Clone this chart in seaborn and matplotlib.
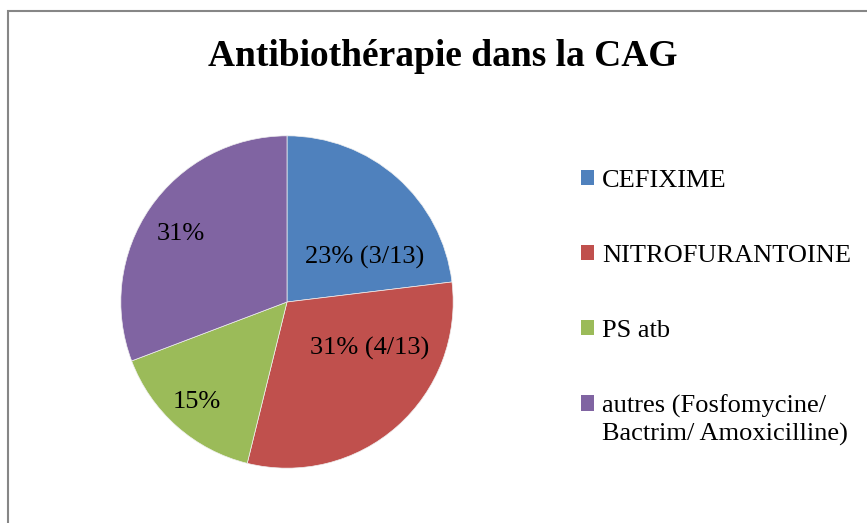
import matplotlib
matplotlib.use('Agg')
import matplotlib.pyplot as plt
import matplotlib.patches as mpatches
from matplotlib.legend_handler import HandlerPatch
import seaborn as sns

# --- data ---
categories = ['CEFIXIME', 'NITROFURANTOINE', 'PS atb',
              'autres (Fosfomycine/\nBactrim/ Amoxicilline)']
counts = [3, 4, 2, 4]
slice_labels = ['23% (3/13)', '31% (4/13)', '15%', '31%']
colors = ['#4F81BD', '#C0504D', '#9BBB59', '#8064A2']
title = 'Antibiothérapie dans la CAG'

# label spots inside the pie (pie radius = 1), Excel "best fit" style
label_pos = [(0.47, 0.27), (0.50, -0.28), (-0.54, -0.60), (-0.64, 0.41)]

sns.set_theme(style='white')
plt.rcParams['font.family'] = ['Liberation Serif', 'DejaVu Serif']
plt.rcParams['text.color'] = 'black'

fig = plt.figure(figsize=(8.67, 5.23), dpi=100)
fig.patch.set_facecolor('white')

# chart area border (only left/top visible in the crop)
border = mpatches.Rectangle((8 / 867, -0.05), 1.2, 1 - 11 / 523 + 0.05,
                            transform=fig.transFigure, fill=False,
                            edgecolor='#868686', linewidth=1.5)
fig.patches.append(border)

ax = fig.add_axes([120 / 867, 54 / 523, 334 / 867, 334 / 523])
wedges, texts = ax.pie(counts, colors=colors, startangle=90, counterclock=False,
                       labels=slice_labels, labeldistance=0.6,
                       wedgeprops=dict(linewidth=0.5, edgecolor='#f0f0f0'),
                       textprops=dict(fontsize=19, color='black'))
for t, (x, y) in zip(texts, label_pos):
    t.set_position((x, y))
    t.set_ha('center')
    t.set_va('center')
ax.set_xlim(-1.005, 1.005)
ax.set_ylim(-1.005, 1.005)
ax.set_aspect('equal')
ax.axis('off')

fig.text(443 / 867, 1 - 57 / 523, title, ha='center', va='center',
         fontsize=27, fontweight='bold', color='black')


# two-line legend entry: keep the square next to the first line
def top_square(legend, orig_handle, xdescent, ydescent, width, height, fontsize):
    return mpatches.Rectangle((-xdescent, -ydescent + 0.62 * fontsize), width, height)


handles = [mpatches.Patch(facecolor=c, edgecolor='none') for c in colors]
leg = fig.legend(handles, categories, loc='upper left',
                 bbox_to_anchor=(581 / 867, 1 - 170 / 523),
                 frameon=False, fontsize=19, labelspacing=2.0,
                 handlelength=0.5, handleheight=0.5, handletextpad=0.3,
                 borderpad=0, borderaxespad=0,
                 handler_map={handles[3]: HandlerPatch(patch_func=top_square)})
for t in leg.get_texts():
    t.set_linespacing(1.3)

fig.savefig('out.png', dpi=100)
